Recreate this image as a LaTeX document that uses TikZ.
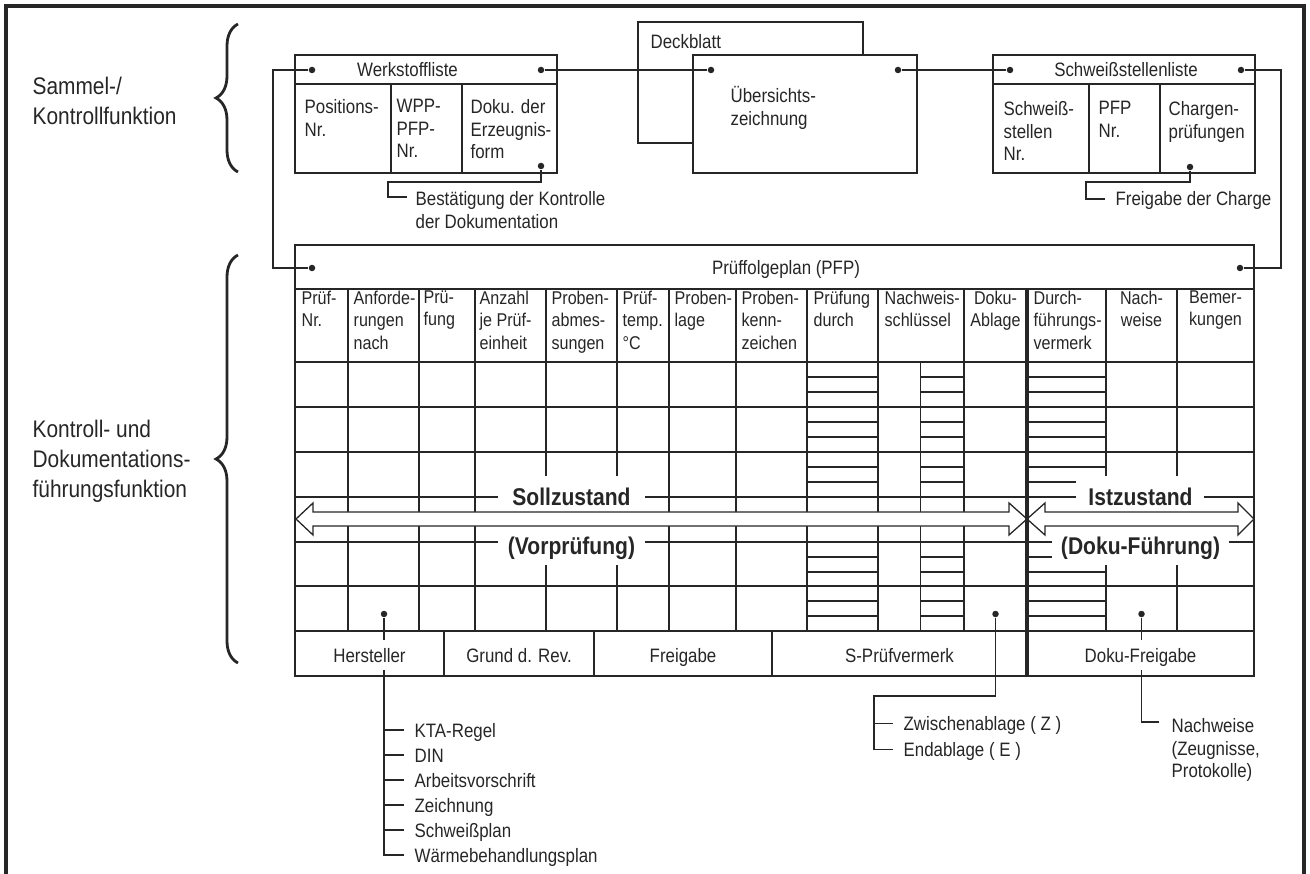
\documentclass[tikz,border=0pt]{standalone}
\usepackage{fontspec}
\setmainfont{Liberation Sans}[FakeStretch=0.87]
\usetikzlibrary{decorations.pathreplacing}

\begin{document}
\begin{tikzpicture}[x=1pt, y=-1pt, line width=1.3pt, color=black!85,
    dot/.style = {circle, fill, inner sep=0pt, minimum size=6.5pt},
    lbl/.style = {font=\fontsize{19.4}{22.5}\selectfont, inner sep=0pt, text height=14pt, text depth=0pt},
    cell/.style = {font=\fontsize{19.4}{22.5}\selectfont, inner sep=0pt, align=left, anchor=north west},
    head/.style = {cell, font=\fontsize{18.5}{22.5}\selectfont},
    tag/.style = {lbl, anchor=west, inner xsep=10pt},
    foot/.style = {lbl, fill=white, inner xsep=2pt, inner ysep=8pt},
    big/.style = {font=\fontsize{24}{30}\selectfont, inner sep=0pt, align=left, anchor=north west},
    state/.style = {font=\fontsize{24.2}{28}\selectfont\bfseries, inner sep=0pt, text height=17.3pt, text depth=0pt},
    arr/.style = {draw, fill=white, line join=miter},
    brc/.style = {decorate, decoration={brace, amplitude=22pt}, line width=2.8pt}]

    \useasboundingbox (0,0) rectangle (1310,874);
    \draw[line width=3.5pt, line join=miter] (6,874) -- (6,6) -- (1304,6) -- (1304,874);

    % Funktionen links
    \node[big] (sam) at (32,76) {Sammel-/\\Kontrollfunktion};
    \node[big] (kon) at (32,419) {Kontroll- und\\Dokumentations-\\führungsfunktion};
    \draw[brc] (238,172) -- (238,24);
    \draw[brc] (238,663) -- (238,255);

    % Werkstoffliste
    \draw (295,55) rectangle (557,173);
    \draw (295,84) -- (557,84);
    \draw (391,84) -- (391,173);
    \draw (462,84) -- (462,173);
    \node[lbl] (wst) at (407.5,70) {Werkstoffliste};
    \node[cell] (w1) at (304,99) {Positions-\\Nr.};
    \node[cell] (w2) at (396,99) {WPP-\\PFP-\\Nr.};
    \node[cell] (w3) at (470,99) {Doku. der\\Erzeugnis-\\form};

    % Deckblatt / Uebersichtszeichnung
    \draw (638,22) rectangle (863,143);
    \node[lbl, anchor=west] (deck) at (650,42) {Deckblatt};
    \draw[fill=white] (693,55) rectangle (917,173);
    \node[cell] (ueb) at (730,86) {Übersichts-\\zeichnung};

    % Schweissstellenliste
    \draw (993,55) rectangle (1255,173);
    \draw (993,84) -- (1255,84);
    \draw (1089,84) -- (1089,173);
    \draw (1160,84) -- (1160,173);
    \node[lbl] (sst) at (1126,70) {Schweißstellenliste};
    \node[cell] (s1) at (1003,101) {Schweiß-\\stellen\\Nr.};
    \node[cell] (s2) at (1098,101) {PFP\\Nr.};
    \node[cell] (s3) at (1168,101) {Chargen-\\prüfungen};

    % Prueffolgeplan
    \draw (295,245) rectangle (1254,676);
    \foreach \y in {289,362,407,452,497,542,586,631}
        \draw (295,\y) -- (1254,\y);
    \foreach \x in {348,419,475,546,617,669,736,807,878,964,1106,1177}
        \draw (\x,289) -- (\x,631);
    \draw (920.7,362) -- (920.7,631);
    \foreach \r in {362,407,452,542,586}
        \foreach \d in {15,30} {
            \draw (807,\r+\d) -- (878,\r+\d);
            \draw (920.7,\r+\d) -- (964,\r+\d);
            \draw (1027,\r+\d) -- (1106,\r+\d);
        }
    \foreach \x in {444,594,772}
        \draw (\x,631) -- (\x,676);
    \node[lbl] (pfp) at (786,268) {Prüffolgeplan (PFP)};

    \foreach \x/\lab in {301/{Prüf-\\Nr.}, 353/{Anforde-\\rungen\\nach}, 423/{Prü-\\fung},
        479/{Anzahl\\je Prüf-\\einheit}, 551/{Proben-\\abmes-\\sungen}, 622/{Prüf-\\temp.\\°C},
        674/{Proben-\\lage}, 741/{Proben-\\kenn-\\zeichen}, 813/{Prüfung\\durch},
        884/{Nachweis-\\schlüssel}, 1033/{Durch-\\führungs-\\vermerk}}
        \node[head] (h\x) at (\x,290) {\lab};
    \node[head, align=center, anchor=north] (hda) at (995.5,290) {Doku-\\Ablage};
    \node[head, align=center, anchor=north] (hnw) at (1141.5,290) {Nach-\\weise};
    \node[head, align=center, anchor=north] (hbm) at (1215.5,290) {Bemer-\\kungen};

    % Soll / Ist
    \fill[white] (498,476) rectangle (645,565);
    \fill[white] (1076,476) rectangle (1204,520);
    \fill[white] (1052,520) rectangle (1229,565);
    \draw[arr] (296,519) -- (313,503) -- (313,512) -- (1009,512) -- (1009,503) -- (1027,519)
        -- (1009,535) -- (1009,526) -- (313,526) -- (313,535) -- cycle;
    \draw[arr] (1027,519) -- (1045,503) -- (1045,512) -- (1238,512) -- (1238,503) -- (1254,519)
        -- (1238,535) -- (1238,526) -- (1045,526) -- (1045,535) -- cycle;
    \draw[line width=4pt] (1027,289) -- (1027,676);
    \node[state] (soll) at (571.5,497) {Sollzustand};
    \node[state] (vor) at (571.5,546) {(Vorprüfung)};
    \node[state] (ist) at (1140.5,497) {Istzustand};
    \node[state] (dok) at (1140.5,546) {(Doku-Führung)};

    % Punkte
    \node[dot] (wl) at (312,70) {};
    \node[dot] (wr) at (541,70) {};
    \node[dot] (wb) at (541,166) {};
    \node[dot] (ul) at (711,70) {};
    \node[dot] (ur) at (898,70) {};
    \node[dot] (sl) at (1010,70) {};
    \node[dot] (sr) at (1241,70) {};
    \node[dot] (sb) at (1190,167) {};
    \node[dot] (pl) at (312,268) {};
    \node[dot] (pr) at (1240,268) {};
    \node[dot] (hd) at (384,614) {};
    \node[dot] (ad) at (995.5,614) {};
    \node[dot] (nd) at (1141.5,614) {};

    % Verbindungen
    \draw (wl) -- ++(-39,0) |- (pl);
    \draw (wr) -- (ul);
    \draw (ur) -- (sl);
    \draw (sr) -- ++(40,0) |- (pr);

    \node[cell] (bk) at (415,191) {Bestätigung der Kontrolle\\der Dokumentation};
    \coordinate (bs) at (407,197);
    \draw (wb) -- ++(0,16) -| ++(-153,15) -- (bs);

    \node[tag] (fc) at (1105,199) {Freigabe der Charge};
    \draw (sb) -- ++(0,15) -| ++(-104,17) -- (fc);

    \foreach \lab [count=\i] in {KTA-Regel, DIN, Arbeitsvorschrift, Zeichnung, Schweißplan, Wärmebehandlungsplan}
        \node[tag] (t\i) at (404,705+25*\i) {\lab};
    \draw (hd) |- (t6);
    \foreach \i in {1,...,5}
        \draw (hd |- t\i) -- (t\i);

    \node[tag] (z1) at (893,723.5) {Zwischenablage ( Z )};
    \node[tag] (z2) at (893,749.5) {Endablage ( E )};
    \coordinate (zb) at (874,696);
    \draw (ad) |- (zb) |- (z2);
    \draw (zb |- z1) -- (z1);

    \node[cell] (nw) at (1171,718) {Nachweise\\(Zeugnisse,\\Protokolle)};
    \coordinate (nk) at (1159,722);
    \draw (nd) |- (nk);

    % Fusszeile
    \node[foot] (f1) at (369.5,655) {Hersteller};
    \node[foot] (f2) at (519,655) {Grund d. Rev.};
    \node[foot] (f3) at (683,655) {Freigabe};
    \node[foot] (f4) at (899.5,655) {S-Prüfvermerk};
    \node[foot] (f5) at (1140.5,655) {Doku-Freigabe};

\end{tikzpicture}
\end{document}
